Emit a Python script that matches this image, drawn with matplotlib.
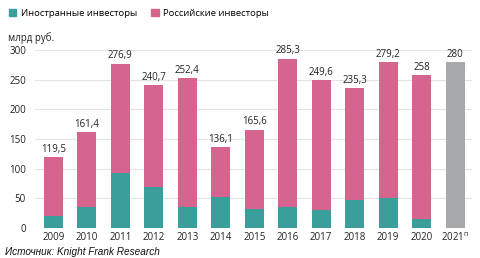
import matplotlib.pyplot as plt
from matplotlib.patches import Patch

years = ['2009', '2010', '2011', '2012', '2013', '2014', '2015',
         '2016', '2017', '2018', '2019', '2020', '2021$^{\\mathregular{п}}$']
totals = [119.5, 161.4, 276.9, 240.7, 252.4, 136.1, 165.6,
          285.3, 249.6, 235.3, 279.2, 258, 280]
total_labels = ['119,5', '161,4', '276,9', '240,7', '252,4', '136,1', '165,6',
                '285,3', '249,6', '235,3', '279,2', '258', '280']
foreign = [20, 35, 93, 69, 35, 52, 32, 35, 31, 47, 50, 15]

teal = '#3a9e9b'
pink = '#d5648f'
grey = '#a8a9ab'

plt.rcParams['font.family'] = ['Open Sans', 'DejaVu Sans']

fig = plt.figure(figsize=(4.8, 2.58), dpi=100)
ax = fig.add_axes([0.073, 0.116, 0.91, 0.69])

x = list(range(len(years)))
russian = [t - f for t, f in zip(totals[:-1], foreign)]

ax.bar(x[:-1], foreign, width=0.57, color=teal, zorder=3)
ax.bar(x[:-1], russian, width=0.57, bottom=foreign, color=pink, zorder=3)
ax.bar(x[-1], totals[-1], width=0.57, color=grey, zorder=3)

for xi, t, lab in zip(x, totals, total_labels):
    ax.text(xi, t + 4, lab, ha='center', va='bottom', fontsize=7, color='#222222')

ax.set_ylim(0, 300)
ax.set_xlim(-0.55, 12.5)
ax.set_yticks(range(0, 301, 50))
ax.set_xticks(x)
ax.set_xticklabels(years)
ax.tick_params(axis='both', length=0, labelsize=7, colors='#222222')
ax.tick_params(axis='y', pad=6.5)
ax.tick_params(axis='x', pad=2.5)
ax.grid(axis='y', color='#e3e3e3', linewidth=0.8, zorder=0)
for s in ax.spines.values():
    s.set_visible(False)

fig.text(0.017, 0.84, 'млрд руб.', fontsize=7, color='#222222')

handles = [Patch(color=teal, label='Иностранные инвесторы'),
           Patch(color=pink, label='Российские инвесторы')]
fig.legend(handles=handles, loc='upper left', bbox_to_anchor=(0.0, 1.0), ncol=2,
           frameon=False, fontsize=6.8, handlelength=0.8, handleheight=0.8,
           handletextpad=0.5, columnspacing=1.5)

fig.text(0.01, 0.012, 'Источник: Knight Frank Research', fontsize=7.2,
         style='italic', family=['Liberation Sans', 'DejaVu Sans'], color='#111111')

fig.savefig('out.png', dpi=100)
